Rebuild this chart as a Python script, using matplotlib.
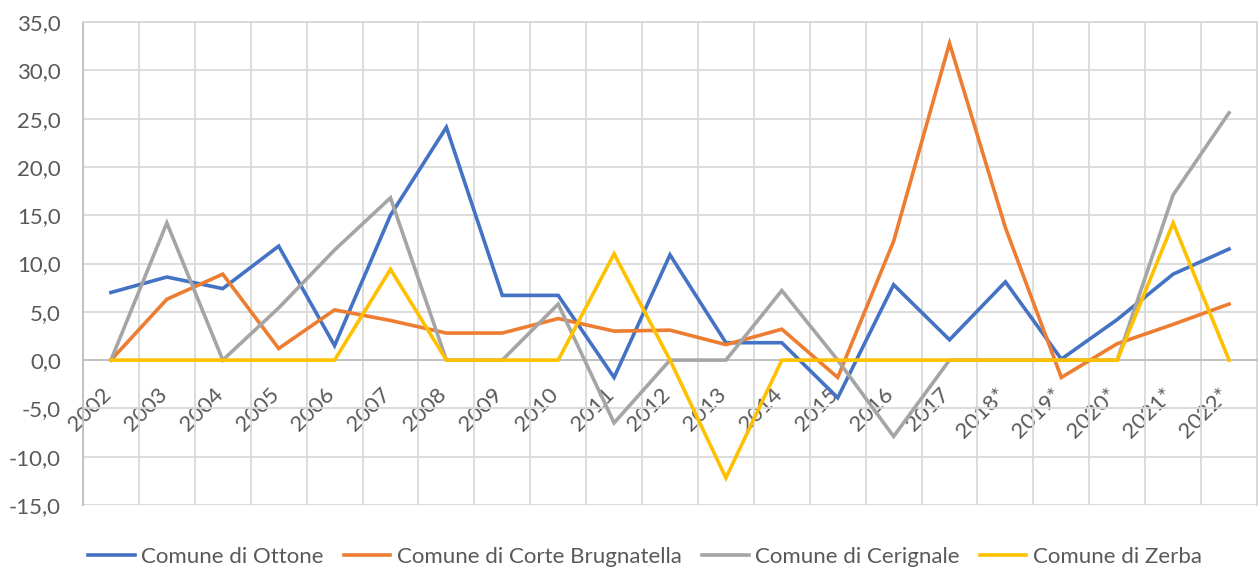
import numpy as np
import matplotlib.pyplot as plt
import matplotlib.transforms as mtransforms
from matplotlib.ticker import FuncFormatter

years = ["2002", "2003", "2004", "2005", "2006", "2007", "2008", "2009", "2010", "2011",
         "2012", "2013", "2014", "2015", "2016", "2017", "2018*", "2019*", "2020*",
         "2021*", "2022*"]

ottone = [7.0, 8.6, 7.4, 11.8, 1.5, 15.0, 24.1, 6.7, 6.7, -1.8,
          10.9, 1.8, 1.8, -3.9, 7.8, 2.1, 8.1, 0.1, 4.2, 8.9, 11.5]
corte_brugnatella = [0.0, 6.3, 8.9, 1.2, 5.2, 4.1, 2.8, 2.8, 4.3, 3.0,
                     3.1, 1.6, 3.2, -1.8, 12.3, 32.8, 13.7, -1.8, 1.7, 3.7, 5.8]
cerignale = [0.0, 14.2, 0.0, 5.4, 11.4, 16.8, 0.0, 0.0, 5.8, -6.5,
             0.0, 0.0, 7.2, 0.0, -7.9, 0.0, 0.0, 0.0, 0.0, 17.1, 25.6]
zerba = [0.0, 0.0, 0.0, 0.0, 0.0, 9.4, 0.0, 0.0, 0.0, 11.0,
         0.0, -12.2, 0.0, 0.0, 0.0, 0.0, 0.0, 0.0, 0.0, 14.2, 0.0]

series = [("Comune di Ottone", ottone, "#4472C4"),
          ("Comune di Corte Brugnatella", corte_brugnatella, "#ED7D31"),
          ("Comune di Cerignale", cerignale, "#A5A5A5"),
          ("Comune di Zerba", zerba, "#FFC000")]

plt.rcParams['font.family'] = ['Lato', 'DejaVu Sans']
txt = "#595959"

fig = plt.figure(figsize=(12.58, 5.67), dpi=100)
ax = fig.add_axes([83/1258, 1 - 505/567, (1257 - 83)/1258, (505 - 22)/567])

x = np.arange(len(years))
for name, vals, col in series:
    ax.plot(x, vals, color=col, lw=2.6, label=name, solid_joinstyle='miter', zorder=3)

ax.set_xlim(-0.5, len(years) - 0.5)
ax.set_ylim(-15, 35)
ax.set_yticks(np.arange(-15, 36, 5))
ax.yaxis.set_major_formatter(FuncFormatter(lambda v, p: f"{v:.1f}".replace(".", ",")))
ax.set_xticks(x)
ax.set_xticks(np.arange(-0.5, len(years), 1), minor=True)
ax.set_xticklabels(years)

ax.grid(True, axis='y', color="#D9D9D9", lw=1.3)
ax.grid(True, axis='x', which='minor', color="#D9D9D9", lw=1.3)
ax.set_axisbelow(True)

ax.spines['bottom'].set_position(('data', 0))
ax.spines['bottom'].set_color("#BFBFBF")
ax.spines['bottom'].set_linewidth(1.3)
ax.spines['left'].set_color("#BFBFBF")
ax.spines['left'].set_linewidth(1.3)
for s in ('top', 'right'):
    ax.spines[s].set_color("#D9D9D9")
    ax.spines[s].set_linewidth(1.3)

ax.tick_params(axis='both', which='both', length=0, labelsize=16, labelcolor=txt)
ax.tick_params(axis='y', pad=16)
ax.tick_params(axis='x', pad=0, labelrotation=45)

# Excel-style placement: label end sits just under each point, below the 0 line
offset = mtransforms.ScaledTranslation(-10/100, -24/100, fig.dpi_scale_trans)
for lab in ax.get_xticklabels():
    lab.set_horizontalalignment('right')
    lab.set_verticalalignment('top')
    lab.set_rotation_mode('anchor')
    lab.set_transform(lab.get_transform() + offset)

fig.legend(loc='center', bbox_to_anchor=(645/1258, 1 - 557/567), ncol=4, frameon=False,
           fontsize=16, labelcolor=txt, handlelength=2.1, handletextpad=0.3,
           columnspacing=0.9)

plt.savefig('out.png', dpi=100)
